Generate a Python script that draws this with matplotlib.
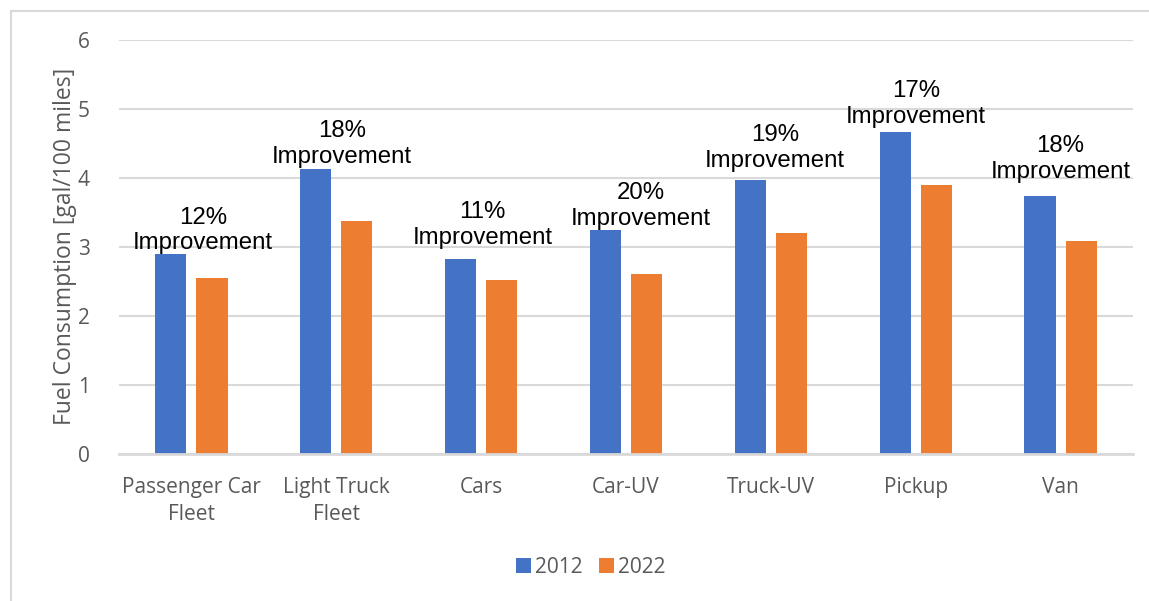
import matplotlib.pyplot as plt
import numpy as np
from matplotlib.patches import Rectangle

categories = ['Passenger Car\nFleet', 'Light Truck\nFleet', 'Cars', 'Car-UV',
              'Truck-UV', 'Pickup', 'Van']
fc_2012 = [2.89, 4.13, 2.82, 3.25, 3.97, 4.67, 3.74]
fc_2022 = [2.55, 3.37, 2.52, 2.60, 3.20, 3.89, 3.08]
improvement = ['12%', '18%', '11%', '20%', '19%', '17%', '18%']

# nudges for the hand-placed text boxes (x in category units, y in points)
label_dx = [0.08, 0.04, 0.01, 0.10, 0.03, 0.0, 0.0]
label_dy = [0, 1, 7.5, 0, 6, 3, 9.5]

blue = '#4472C4'
orange = '#ED7D31'
grey = '#595959'
grid = '#D9D9D9'

fig = plt.figure(figsize=(11.49, 6.01), dpi=100)
ax = fig.add_axes([119 / 1149, 1 - 453.7 / 601, 1014 / 1149, (453.7 - 40) / 601])

# chart border
fig.patches.append(Rectangle((11 / 1149, -0.1), 1.2, 1 - 11 / 601 + 0.1,
                             transform=fig.transFigure, fill=False,
                             edgecolor=grid, linewidth=1.5))

x = np.arange(len(categories))
w = 0.215
off = 0.142
ax.bar(x - off, fc_2012, w, color=blue, label='2012', zorder=3)
ax.bar(x + off, fc_2022, w, color=orange, label='2022', zorder=3)

for i in range(len(categories)):
    ax.annotate(improvement[i] + '\nImprovement',
                xy=(x[i] + label_dx[i], fc_2012[i]),
                xytext=(0, label_dy[i]), textcoords='offset points',
                ha='center', va='bottom', fontsize=17.3,
                family='Liberation Sans', color='black', linespacing=1.2,
                zorder=4)

ax.set_xlim(-0.5, len(categories) - 0.5)
ax.set_ylim(0, 6)
ax.set_yticks(range(0, 7))
ax.set_xticks(x)
ax.set_xticklabels(categories, fontsize=15, color=grey, family='Open Sans',
                   linespacing=1.35)
ax.tick_params(axis='y', labelsize=15, labelcolor=grey, length=0, pad=21)
ax.tick_params(axis='x', length=0, pad=17)
for lbl in ax.get_yticklabels():
    lbl.set_family('Open Sans')

ax.yaxis.grid(True, color=grid, linewidth=1.5, zorder=0)
for s in ['top', 'right', 'left']:
    ax.spines[s].set_visible(False)
ax.spines['bottom'].set_color(grid)
ax.spines['bottom'].set_linewidth(2)
ax.spines['bottom'].set_zorder(3)

ax.set_ylabel('Fuel Consumption [gal/100 miles]', fontsize=16.5, color=grey,
              family='Open Sans')
ax.yaxis.set_label_coords(-0.041, 0.5)

fig.legend(loc='center', bbox_to_anchor=(591 / 1149, 1 - 567.5 / 601), ncol=2,
           frameon=False, handlelength=0.7, handleheight=0.7,
           handletextpad=0.2, columnspacing=0.8,
           prop={'family': 'Open Sans', 'size': 15}, labelcolor=grey)

fig.savefig('out.png', dpi=100)
